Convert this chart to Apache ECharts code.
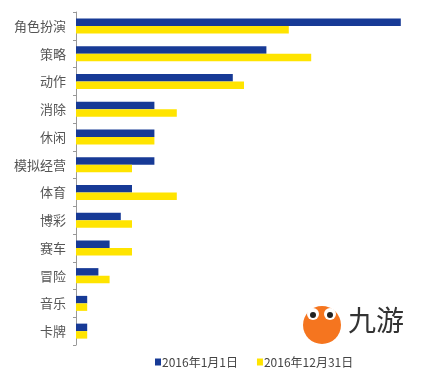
<!DOCTYPE html>
<html><head><meta charset="utf-8">
<script src="https://cdn.jsdelivr.net/npm/echarts@6/dist/echarts.min.js"></script>
<style>html,body{margin:0;padding:0;background:#fff}#c{width:422px;height:371px}</style>
</head><body><div id="c"></div>
<script>
const categories = ['角色扮演','策略','动作','消除','休闲','模拟经营','体育','博彩','赛车','冒险','音乐','卡牌'];
const seriesNames = ['2016年1月1日','2016年12月31日'];
const jan2016 = [29,17,14,7,7,7,5,4,3,2,1,1];
const dec2016 = [19,21,15,9,7,5,9,5,5,3,1,1];

const chart = echarts.init(document.getElementById('c'), null, {renderer:'canvas'});
const font = '"Noto Sans CJK SC","Noto Sans",sans-serif';
chart.setOption({
  animation:false,
  backgroundColor:'#fff',
  grid:{left:76, top:12, width:336, height:333, containLabel:false},
  xAxis:{type:'value', min:0, max:30, show:false},
  yAxis:{type:'category', data:categories, inverse:true,
    axisLine:{show:true, lineStyle:{color:'#999', width:1}},
    axisTick:{show:true, length:3, lineStyle:{color:'#999'}},
    axisLabel:{fontSize:13, color:'#555', margin:10, fontFamily:font}},
  legend:{left:150, top:351, itemWidth:6, itemHeight:7, itemGap:19, icon:'rect',
    textStyle:{fontSize:12, color:'#444', fontFamily:font, padding:[0,0,0,-4]},
    data:seriesNames},
  series:[
    {name:seriesNames[0], type:'bar', data:jan2016, barWidth:7.5, barGap:'0%', itemStyle:{color:'#173A96'}},
    {name:seriesNames[1], type:'bar', data:dec2016, barWidth:7.5, barGap:'0%', itemStyle:{color:'#FFE400'}}
  ],
  graphic:[
    {type:'circle', shape:{cx:322, cy:325, r:19}, style:{fill:'#F5751F'}},
    {type:'circle', shape:{cx:313, cy:314, r:6}, style:{fill:'#fff'}},
    {type:'circle', shape:{cx:330, cy:314, r:6}, style:{fill:'#fff'}},
    {type:'circle', shape:{cx:313, cy:315, r:3}, style:{fill:'#222'}},
    {type:'circle', shape:{cx:330, cy:315, r:3}, style:{fill:'#222'}},
    {type:'text', left:348, top:306, style:{text:'九游', fontSize:28, fill:'#333', fontFamily:font}}
  ]
});
</script></body></html>
